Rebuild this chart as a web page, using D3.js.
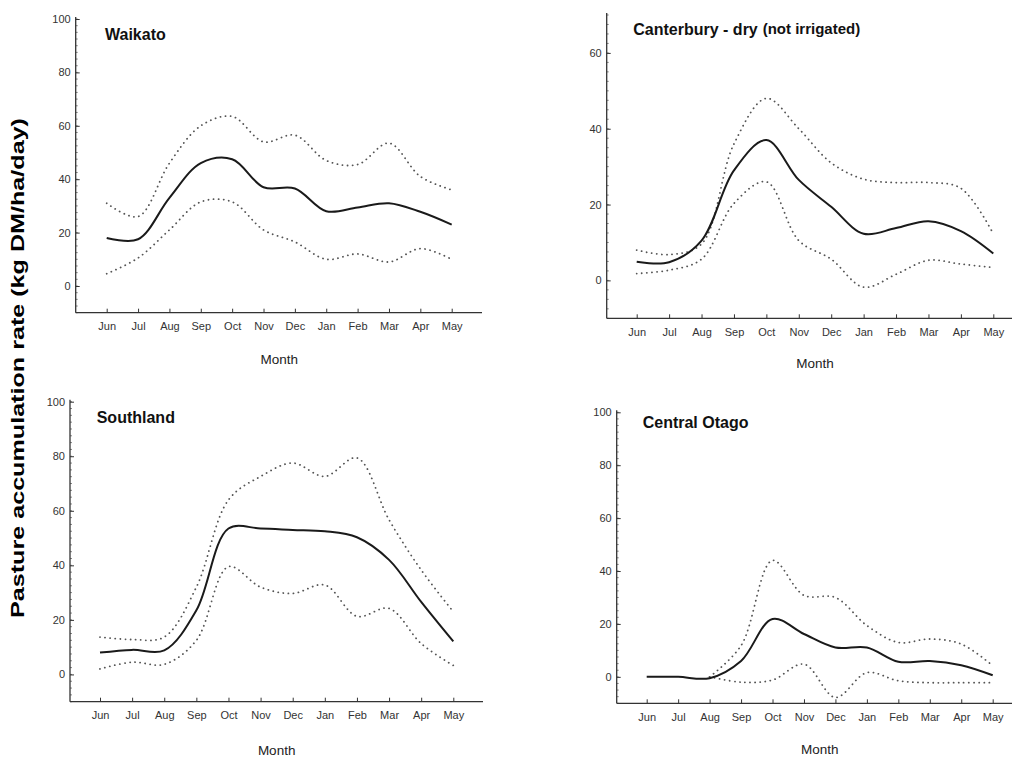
<!DOCTYPE html>
<html>
<head>
<meta charset="utf-8">
<script src="https://cdn.jsdelivr.net/npm/d3@7"></script>
<style>
  html, body { margin: 0; padding: 0; background: #ffffff; }
  svg { display: block; font-family: Arial, "Liberation Sans", Helvetica, sans-serif; }
</style>
</head>
<body>
<svg id="chart" width="1012" height="758"></svg>
<script>
// ---------------- DATA ----------------
const months = ["Jun", "Jul", "Aug", "Sep", "Oct", "Nov", "Dec", "Jan", "Feb", "Mar", "Apr", "May"];

const waikatoMean  = [18, 17.5, 33, 46, 47.5, 37, 36.5, 28, 29.4, 31, 27.8, 23];
const waikatoUpper = [31, 26, 46, 60, 63.5, 54, 56.5, 47, 45.5, 53.5, 41, 36];
const waikatoLower = [4.6, 10.5, 21, 31.5, 31.5, 21, 16.5, 10, 12, 9, 14, 10];

const canterburyMean  = [4.9, 4.8, 10.5, 29, 37, 26.5, 19.4, 12.3, 13.8, 15.6, 13, 7.1];
const canterburyUpper = [8, 6.8, 9.6, 36, 48, 40, 31, 26.7, 25.8, 25.8, 24.3, 12.3];
const canterburyLower = [1.8, 2.7, 5.6, 20.3, 26, 10.5, 5.6, -1.8, 1.6, 5.3, 4.3, 3.4];

const southlandMean  = [8, 9, 8.8, 23.5, 53.5, 53.5, 53, 52.5, 50.3, 42, 26.6, 12.1];
const southlandUpper = [13.7, 12.8, 13.7, 32, 64, 72.6, 77.5, 72.6, 79.4, 56.7, 38.3, 23];
const southlandLower = [2, 4.5, 3.7, 12.5, 39.5, 32, 29.7, 32.8, 21.3, 24.2, 11.3, 3.3];

const otagoMean  = [0, 0, -0.5, 6, 21.9, 16.2, 11.1, 11.1, 5.7, 6, 4.4, 0.6];
const otagoUpper = [null, null, 0, 11.8, 44, 30.8, 30, 19.4, 13, 14.3, 12.4, 4.2];
const otagoLower = [null, null, 0, -2, -1.2, 4.8, -7.8, 1.6, -1.5, -2.2, -2.2, -2.2];

const yTicks100 = [0, 20, 40, 60, 80, 100];
const yTicks70  = [0, 20, 40, 60];

const titles = ["Waikato", "Canterbury - dry", "Southland", "Central Otago"];
const subTitleCanterbury = "(not irrigated)";
const xAxisTitle = "Month";
const yAxisTitle = "Pasture accumulation rate (kg DM/ha/day)";

// ---------------- LAYOUT ----------------
const panels = [
  { title: titles[0], mean: waikatoMean, upper: waikatoUpper, lower: waikatoLower,
    yDomain: [-10, 100], ticks: yTicks100,
    axisX: 75.7, x0: 106.7, x1: 451.7, xEnd: 482, yBottom: 312.7, yTop: 19,
    titleX: 105, titleY: 40, monthY: 364 },
  { title: titles[1], sub: subTitleCanterbury, mean: canterburyMean, upper: canterburyUpper, lower: canterburyLower,
    yDomain: [-10, 70], ticks: yTicks70,
    axisX: 606.7, x0: 636.7, x1: 993.3, xEnd: 1012, yBottom: 318.3, yTop: 15,
    titleX: 633.3, titleY: 35, monthY: 367.5 },
  { title: titles[2], mean: southlandMean, upper: southlandUpper, lower: southlandLower,
    yDomain: [-10, 100], ticks: yTicks100,
    axisX: 70, x0: 100, x1: 453.3, xEnd: 483, yBottom: 701.7, yTop: 401.7,
    titleX: 96.7, titleY: 423.3, monthY: 755 },
  { title: titles[3], mean: otagoMean, upper: otagoUpper, lower: otagoLower,
    yDomain: [-10, 100], ticks: yTicks100,
    axisX: 616.7, x0: 646.7, x1: 992.7, xEnd: 1012, yBottom: 703.3, yTop: 412.3,
    titleX: 642.7, titleY: 427.7, monthY: 754 }
];

const svg = d3.select("#chart");

panels.forEach(p => {
  const g = svg.append("g");
  const x = d3.scalePoint().domain(months).range([p.x0, p.x1]);
  const y = d3.scaleLinear().domain(p.yDomain).range([p.yBottom, p.yTop]);

  // minor y ticks
  const minor = d3.range(p.yDomain[0], p.yDomain[1] + 0.01, 2.5);
  g.append("g").selectAll("line").data(minor).join("line")
    .attr("x1", p.axisX).attr("x2", p.axisX + 2)
    .attr("y1", d => y(d)).attr("y2", d => y(d))
    .attr("stroke", "#666").attr("stroke-width", 0.8);

  // y axis
  const yAxis = d3.axisLeft(y).tickValues(p.ticks).tickSizeInner(-4).tickSizeOuter(0).tickPadding(5);
  const ya = g.append("g").attr("transform", `translate(${p.axisX},0)`).call(yAxis);
  ya.select(".domain").remove();
  ya.selectAll(".tick line").attr("stroke", "#333").attr("stroke-width", 1);
  ya.selectAll("text").attr("font-size", 11).attr("fill", "#333");
  g.append("line").attr("x1", p.axisX).attr("x2", p.axisX)
    .attr("y1", p.yBottom).attr("y2", p.yTop - 2)
    .attr("stroke", "#333").attr("stroke-width", 1.3);

  // x axis
  const xAxis = d3.axisBottom(x).tickSizeInner(-4).tickSizeOuter(0).tickPadding(10);
  const xa = g.append("g").attr("transform", `translate(0,${p.yBottom})`).call(xAxis);
  xa.select(".domain").remove();
  xa.selectAll(".tick line").attr("stroke", "#333").attr("stroke-width", 1);
  xa.selectAll("text").attr("font-size", 11).attr("fill", "#333");
  g.append("line").attr("x1", p.axisX).attr("x2", p.xEnd)
    .attr("y1", p.yBottom).attr("y2", p.yBottom)
    .attr("stroke", "#333").attr("stroke-width", 1.3);

  // lines
  const line = d3.line()
    .defined(d => d != null)
    .x((d, i) => x(months[i]))
    .y(d => y(d))
    .curve(d3.curveCatmullRom.alpha(0.5));

  [p.upper, p.lower].forEach(arr => {
    g.append("path").datum(arr).attr("d", line)
      .attr("fill", "none").attr("stroke", "#555").attr("stroke-width", 1.8)
      .attr("stroke-dasharray", "0.1,5").attr("stroke-linecap", "round");
  });
  g.append("path").datum(p.mean).attr("d", line)
    .attr("fill", "none").attr("stroke", "#1a1a1a").attr("stroke-width", 2);

  // title
  g.append("text").attr("x", p.titleX).attr("y", p.titleY)
    .attr("font-size", 16).attr("font-weight", "bold").attr("fill", "#111")
    .text(p.title);
  if (p.sub) {
    g.append("text").attr("x", 762.7).attr("y", p.titleY - 1.5)
      .attr("font-size", 15).attr("font-weight", "bold").attr("fill", "#111")
      .text(p.sub);
  }

  // x-axis title
  g.append("text").attr("x", (p.x0 + p.x1) / 2).attr("y", p.monthY)
    .attr("text-anchor", "middle").attr("font-size", 13.5).attr("fill", "#222")
    .text(xAxisTitle);
});

// global y title
svg.append("text")
  .attr("transform", "translate(24,368) rotate(-90)")
  .attr("text-anchor", "middle").attr("font-size", 19).attr("font-weight", "bold").attr("fill", "#000")
  .attr("textLength", 500).attr("lengthAdjust", "spacingAndGlyphs")
  .text(yAxisTitle);
</script>
</body>
</html>
